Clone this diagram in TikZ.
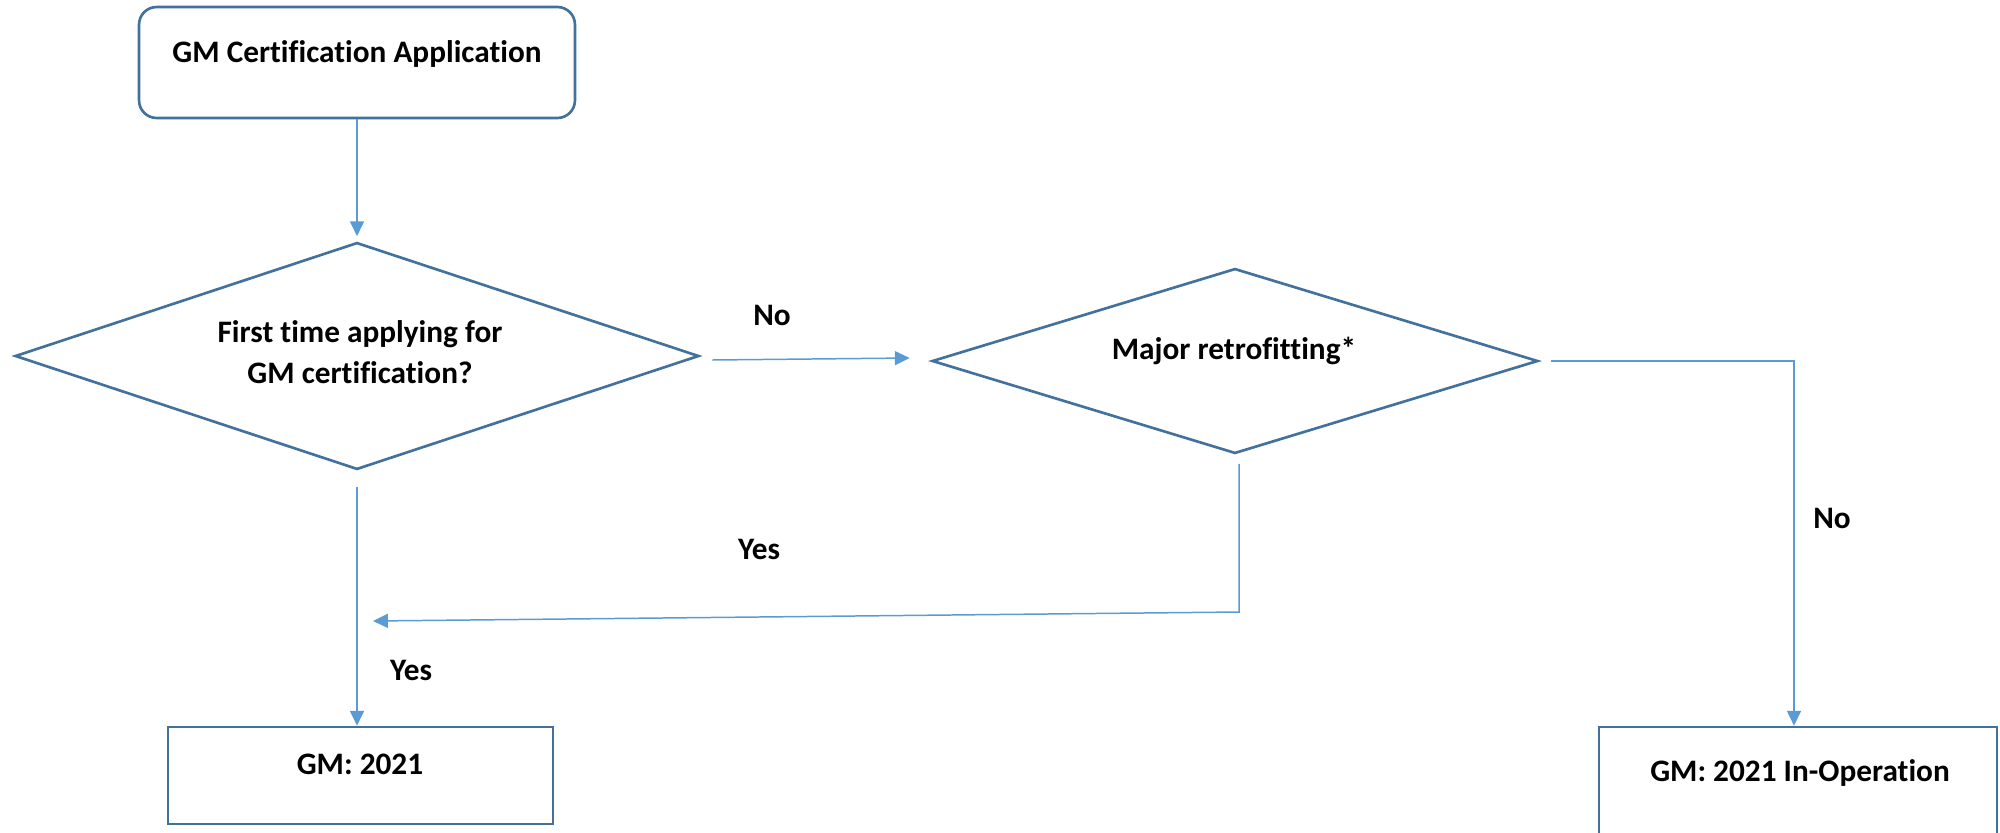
\documentclass[tikz,border=0pt]{standalone}
\usepackage{fontspec}
\setmainfont{Carlito}[Ligatures={NoCommon}]
\usetikzlibrary{shapes.geometric,arrows.meta,calc}
\definecolor{shapeblue}{HTML}{41719C}
\definecolor{lineblue}{HTML}{5B9BD5}
\begin{document}
\begin{tikzpicture}[x=0.02cm,y=-0.02cm,
  shapebox/.style={draw=shapeblue,line width=1.5pt,inner sep=0pt,rectangle},
  decision/.style={draw=shapeblue,line width=1.5pt,inner sep=0pt,diamond},
  txt/.style={font=\fontsize{17.8}{21}\selectfont\bfseries,anchor=base,inner sep=0pt},
  conn/.style={draw=lineblue,line width=0.85pt,-{Triangle[length=8.5pt,width=8pt]}}]
\useasboundingbox (0,0) rectangle (2000,832);
\clip (0,0) rectangle (2000,832);
% shapes
\node[shapebox, rounded corners=10pt, minimum width=8.72cm, minimum height=2.22cm] (b0) at (357,62.5) {};
\node[decision, minimum width=13.68cm, minimum height=4.54cm] (d1) at (357,356) {};
\node[decision, minimum width=12.12cm, minimum height=3.7cm] (d2) at (1235,361) {};
\node[shapebox, minimum width=7.7cm, minimum height=1.94cm] (b1) at (360.5,775.5) {};
\node[shapebox, minimum width=7.96cm, minimum height=2.86cm] (b3) at (1798,798.5) {};
% texts
\node[txt] (t0) at (357,62) {GM Certification Application};
\node[txt] (t1a) at (360,342) {First time applying for};
\node[txt] (t1b) at (360,383) {GM certification?};
\node[txt] (t2) at (1234,359) {Major retrofitting*};
\node[txt] (t3) at (360,774) {GM: 2021};
\node[txt] (t4) at (1800,781) {GM: 2021 In-Operation};
% labels
\node[txt] (lno1) at (772,325) {No};
\node[txt] (lno2) at (1832,528) {No};
\node[txt] (lyes1) at (759,559) {Yes};
\node[txt] (lyes2) at (411,680) {Yes};
% connectors
\draw[conn] (b0.south) -- ($(d1.north)+(0,-5)$);
\draw[conn] ($(d1.east)+(12,4)$) -- ($(d2.west)+(-21,-3)$);
\draw[conn] ($(d1.south)+(0,16)$) -- (d1.south |- b1.north);
\coordinate (bend) at (1239,612);
\coordinate (yesend) at (373,621);
\draw[conn] ($(d2.south)+(4,9)$) -- (bend) -- (yesend);
\draw[conn] ($(d2.east)+(12,0)$) -| ($(b3.north)+(-4,0)$);
\end{tikzpicture}
\end{document}
